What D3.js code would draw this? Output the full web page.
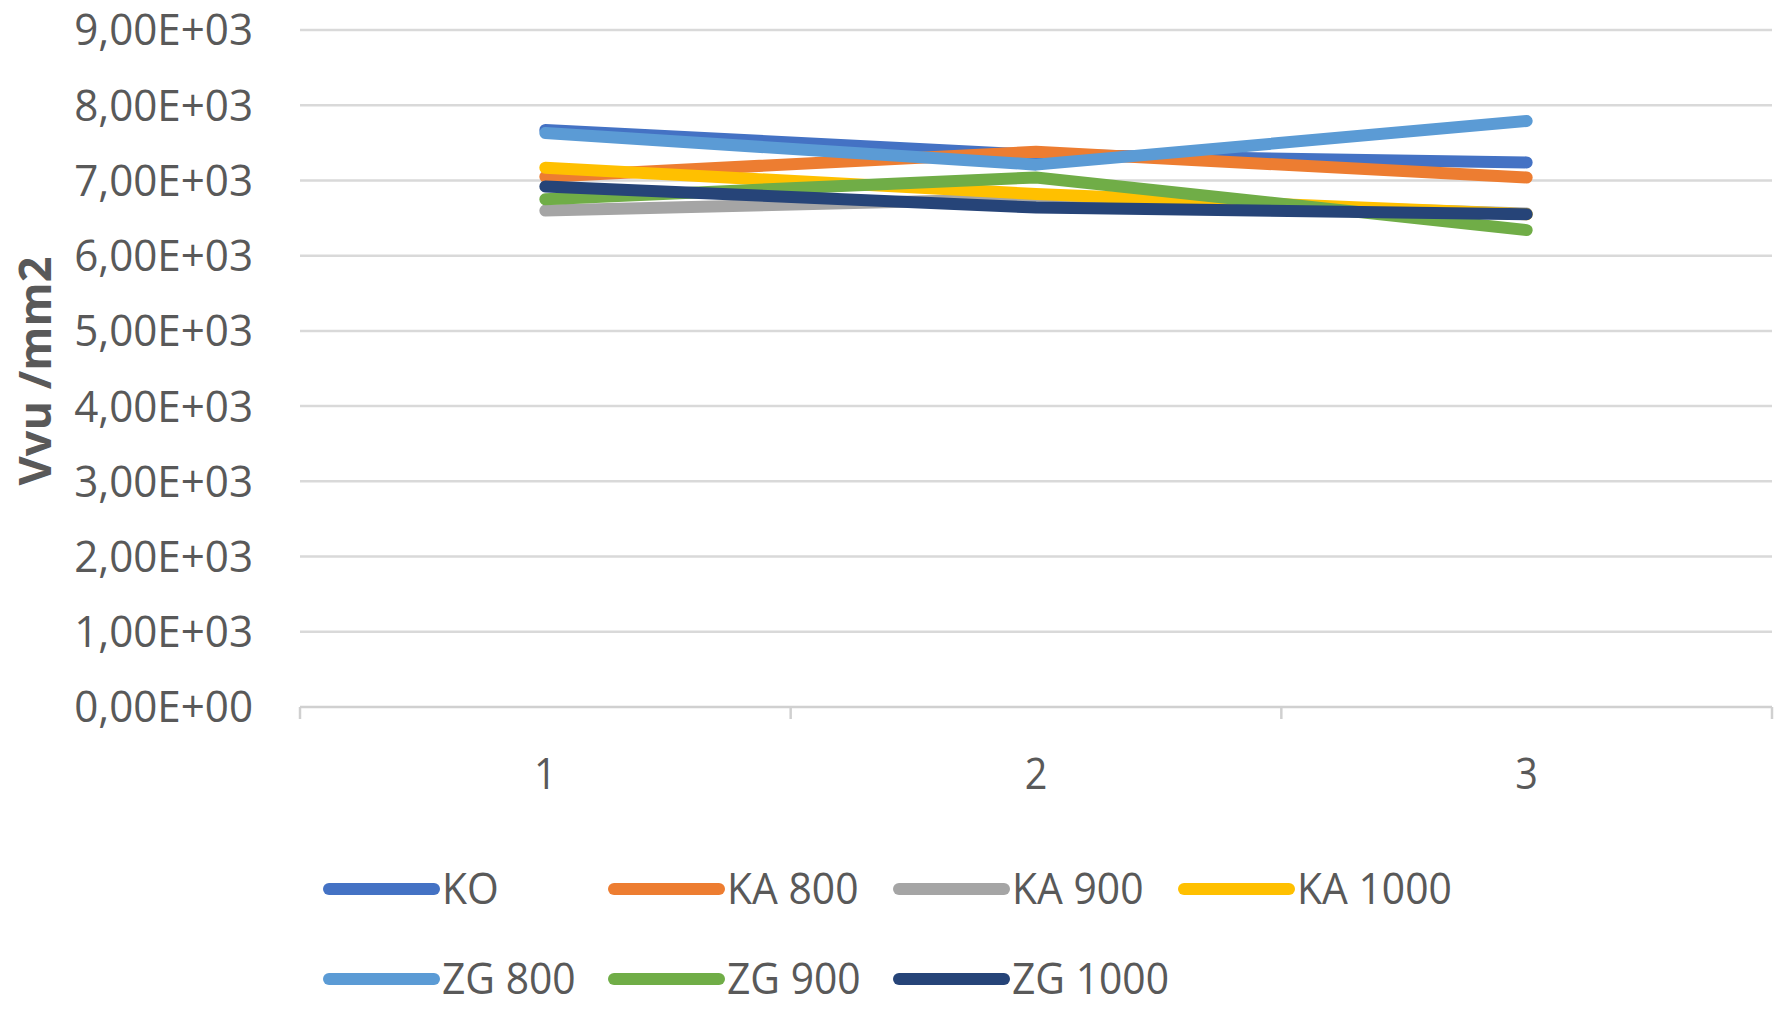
<!DOCTYPE html>
<html>
<head>
<meta charset="utf-8">
<script src="https://cdn.jsdelivr.net/npm/d3@7"></script>
<style>
  html, body { margin: 0; padding: 0; background: #ffffff; }
  svg { display: block; }
  text { font-family: "Open Sans", "Noto Sans", sans-serif; }
</style>
</head>
<body>
<svg id="chart" width="1789" height="1012"></svg>
<script>
// Sample positions along the x axis
const categories = [1, 2, 3];

// Vvu per mm2 for each treatment
const seriesNames = ["KO", "KA 800", "KA 900", "KA 1000", "ZG 800", "ZG 900", "ZG 1000"];
const valuesKO     = [7670, 7340, 7240];
const valuesKA800  = [7050, 7380, 7040];
const valuesKA900  = [6600, 6760, 6560];
const valuesKA1000 = [7170, 6820, 6550];
const valuesZG800  = [7630, 7210, 7790];
const valuesZG900  = [6750, 7040, 6340];
const valuesZG1000 = [6920, 6640, 6550];
const seriesColors = ["#4472C4", "#ED7D31", "#A5A5A5", "#FFC000", "#5B9BD5", "#70AD47", "#264478"];

const yTicks = [0, 1000, 2000, 3000, 4000, 5000, 6000, 7000, 8000, 9000];
const yTitle = "Vvu /mm2";

const series = seriesNames.map((name, i) => ({
  name,
  color: seriesColors[i],
  values: [valuesKO, valuesKA800, valuesKA900, valuesKA1000, valuesZG800, valuesZG900, valuesZG1000][i]
}));

const svg = d3.select("#chart");
const plot = { left: 300, right: 1772, top: 30, bottom: 707 };

const x = d3.scaleBand().domain(categories).range([plot.left, plot.right]).paddingInner(0).paddingOuter(0);
const y = d3.scaleLinear().domain([0, 9000]).range([plot.bottom, plot.top]);

// Spreadsheet-style scientific notation with a decimal comma: 9,00E+03
function sci(v) {
  if (v === 0) return "0,00E+00";
  const e = Math.floor(Math.log10(Math.abs(v)));
  const m = (v / Math.pow(10, e)).toFixed(2).replace(".", ",");
  const sign = e < 0 ? "-" : "+";
  return m + "E" + sign + String(Math.abs(e)).padStart(2, "0");
}

const textGray = "#595959";

// Horizontal gridlines
svg.append("g")
  .selectAll("line")
  .data(yTicks.filter(t => t > 0))
  .join("line")
  .attr("x1", plot.left).attr("x2", plot.right)
  .attr("y1", d => y(d)).attr("y2", d => y(d))
  .attr("stroke", "#D9D9D9").attr("stroke-width", 2.5);

// Y tick labels
svg.append("g")
  .selectAll("text")
  .data(yTicks)
  .join("text")
  .attr("transform", d => `translate(253,${y(d)}) scale(0.98,1)`)
  .attr("text-anchor", "end")
  .attr("dy", "0.36em")
  .attr("font-size", 43)
  .attr("fill", textGray)
  .text(d => sci(d));

// Category axis: baseline, boundary ticks and centred labels
const xAxis = svg.append("g");
xAxis.append("line")
  .attr("x1", plot.left).attr("x2", plot.right)
  .attr("y1", y(0)).attr("y2", y(0))
  .attr("stroke", "#D0D0D0").attr("stroke-width", 2.5);
const bounds = categories.map(c => x(c)).concat([x(categories[categories.length - 1]) + x.bandwidth()]);
xAxis.selectAll("line.tick")
  .data(bounds)
  .join("line")
  .attr("class", "tick")
  .attr("x1", d => d).attr("x2", d => d)
  .attr("y1", y(0)).attr("y2", y(0) + 12)
  .attr("stroke", "#D0D0D0").attr("stroke-width", 2.5);
xAxis.selectAll("text")
  .data(categories)
  .join("text")
  .attr("transform", d => `translate(${x(d) + x.bandwidth() / 2},789) scale(0.92,1)`)
  .attr("text-anchor", "middle")
  .attr("font-size", 43)
  .attr("fill", textGray)
  .text(d => d);

// Y axis title
svg.append("text")
  .attr("transform", "translate(51,371) rotate(-90)")
  .attr("text-anchor", "middle")
  .attr("font-size", 45)
  .attr("font-weight", "bold")
  .attr("fill", textGray)
  .text(yTitle);

// Series lines
const line = d3.line()
  .x((d, i) => x(categories[i]) + x.bandwidth() / 2)
  .y(d => y(d));

svg.append("g")
  .selectAll("path")
  .data(series)
  .join("path")
  .attr("d", d => line(d.values))
  .attr("fill", "none")
  .attr("stroke", d => d.color)
  .attr("stroke-width", 12)
  .attr("stroke-linecap", "round")
  .attr("stroke-linejoin", "round");

// Legend: two rows of four columns
const legend = svg.append("g");
const colStep = 285, rowStep = 90;
const items = legend.selectAll("g")
  .data(series)
  .join("g")
  .attr("transform", (d, i) => `translate(${329 + (i % 4) * colStep},${889 + Math.floor(i / 4) * rowStep})`);
items.append("line")
  .attr("x1", 0).attr("x2", 105)
  .attr("y1", 0).attr("y2", 0)
  .attr("stroke", d => d.color)
  .attr("stroke-width", 12)
  .attr("stroke-linecap", "round");
items.append("text")
  .attr("transform", `translate(113,0) scale(0.95,1)`)
  .attr("dy", "0.36em")
  .attr("font-size", 43)
  .attr("fill", textGray)
  .text(d => d.name);
</script>
</body>
</html>
